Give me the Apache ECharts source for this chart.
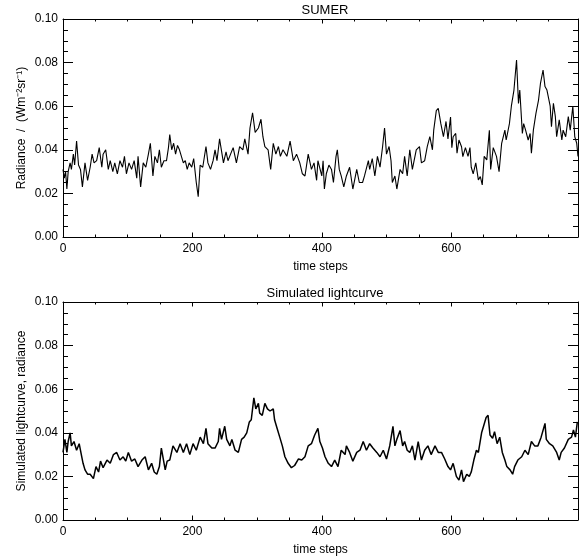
<!DOCTYPE html>
<html>
<head>
<meta charset="utf-8">
<title>SUMER / Simulated lightcurve</title>
<script src="https://cdn.jsdelivr.net/npm/echarts@6/dist/echarts.min.js"></script>
<style>
  html, body { margin: 0; padding: 0; background: #fff; }
  #chart { width: 587px; height: 558px; }
</style>
</head>
<body>
<div id="chart"></div>
<script type="text/javascript">
// values (time step, radiance)
var sumerSteps = [0,2,4,6,8,11,13,16,18,21,24,27,30,34,38,42,45,48,52,56,60,62,66,70,73,77,80,84,88,92,95,98,102,106,110,114,116,120,124,128,132,135,139,142,146,149,152,156,160,163,165,168,171,174,177,180,183,186,189,192,195,199,202,206,209,212,216,221,224,228,232,235,238,242,248,252,255,259,263,268,273,278,281,286,289,293,297,302,306,309,312,317,321,325,329,333,336,340,346,351,356,361,366,370,374,379,384,388,392,394,400,402,404,407,411,415,418,422,424,427,430,434,438,443,448,454,458,463,466,472,474,478,482,486,490,494,497,500,504,507,509,513,516,521,525,528,532,536,540,546,551,554,559,563,567,571,573,577,580,584,588,592,595,599,601,603,607,609,612,616,618,622,626,629,631,634,638,642,645,648,651,655,659,661,665,670,674,678,683,685,690,693,697,701,704,706,710,712,715,719,722,724,727,731,735,738,742,745,748,753,755,758,761,763,767,771,773,777,781,784,788,791,794,796];
var sumerRadiance = [0.031,0.027,0.030,0.022,0.030,0.034,0.031,0.038,0.033,0.044,0.033,0.031,0.023,0.034,0.026,0.032,0.038,0.034,0.035,0.041,0.032,0.038,0.040,0.031,0.035,0.030,0.034,0.029,0.035,0.032,0.037,0.029,0.034,0.031,0.035,0.027,0.037,0.023,0.034,0.032,0.038,0.043,0.028,0.037,0.034,0.040,0.032,0.035,0.035,0.041,0.047,0.040,0.043,0.038,0.042,0.040,0.037,0.034,0.035,0.031,0.034,0.032,0.036,0.025,0.0185,0.033,0.032,0.0415,0.034,0.031,0.035,0.040,0.035,0.045,0.034,0.039,0.035,0.038,0.041,0.034,0.0415,0.040,0.045,0.038,0.050,0.057,0.048,0.050,0.054,0.046,0.0415,0.040,0.031,0.043,0.038,0.0415,0.037,0.040,0.037,0.044,0.035,0.038,0.034,0.029,0.028,0.038,0.031,0.034,0.026,0.035,0.028,0.035,0.022,0.029,0.033,0.031,0.025,0.037,0.040,0.031,0.028,0.023,0.028,0.032,0.022,0.031,0.025,0.025,0.028,0.035,0.031,0.036,0.028,0.037,0.032,0.0415,0.050,0.038,0.0415,0.035,0.025,0.028,0.022,0.031,0.029,0.037,0.028,0.040,0.031,0.040,0.0415,0.034,0.035,0.0415,0.046,0.040,0.049,0.058,0.059,0.052,0.046,0.053,0.045,0.055,0.041,0.046,0.0475,0.0384,0.0445,0.0414,0.0369,0.041,0.037,0.041,0.032,0.029,0.034,0.0262,0.0277,0.0239,0.037,0.0354,0.049,0.031,0.041,0.037,0.030,0.043,0.049,0.0445,0.052,0.060,0.0674,0.0812,0.0613,0.0674,0.0475,0.052,0.049,0.0445,0.0475,0.0384,0.049,0.0567,0.0628,0.0705,0.0766,0.069,0.0674,0.060,0.0506,0.0613,0.0552,0.046,0.0537,0.0445,0.049,0.046,0.0552,0.049,0.060,0.046,0.043,0.037];

var simSteps = [0,3,6,8,11,13,17,21,25,29,31,34,38,42,47,51,55,58,62,68,73,78,83,88,93,97,101,106,111,116,122,127,132,137,141,145,149,152,158,161,165,170,176,181,186,191,196,201,206,212,217,221,224,230,235,240,242,245,250,253,258,261,266,271,276,280,284,288,291,295,298,302,304,308,312,316,320,325,327,331,335,339,343,348,353,358,364,369,374,379,384,389,394,397,401,405,410,415,420,425,430,436,438,443,448,454,459,464,469,474,479,485,490,495,500,505,510,513,516,521,525,528,532,536,540,544,549,554,559,564,569,575,580,585,590,595,599,603,608,612,616,619,624,628,631,635,639,642,647,650,654,657,660,664,667,671,675,679,683,686,691,695,698,703,709,714,719,724,729,734,739,745,747,752,757,763,767,770,775,781,786,789,792,795];
var simRadiance = [0.031,0.037,0.031,0.036,0.040,0.034,0.036,0.032,0.035,0.029,0.026,0.023,0.021,0.021,0.019,0.0245,0.022,0.027,0.024,0.0275,0.026,0.030,0.031,0.0275,0.029,0.027,0.031,0.027,0.028,0.0245,0.0275,0.029,0.023,0.026,0.022,0.021,0.0245,0.033,0.023,0.027,0.0275,0.034,0.031,0.035,0.031,0.035,0.030,0.035,0.032,0.038,0.035,0.042,0.035,0.033,0.033,0.036,0.042,0.037,0.043,0.037,0.034,0.037,0.032,0.031,0.037,0.038,0.040,0.045,0.046,0.056,0.051,0.0535,0.049,0.048,0.0535,0.051,0.050,0.051,0.046,0.042,0.038,0.034,0.029,0.026,0.024,0.025,0.028,0.0275,0.029,0.034,0.035,0.039,0.042,0.036,0.033,0.029,0.026,0.0245,0.0275,0.0245,0.032,0.030,0.034,0.031,0.027,0.031,0.032,0.036,0.032,0.035,0.033,0.031,0.029,0.032,0.028,0.034,0.043,0.034,0.037,0.041,0.034,0.036,0.032,0.031,0.034,0.0275,0.036,0.0275,0.032,0.034,0.030,0.034,0.031,0.031,0.028,0.0245,0.023,0.026,0.020,0.0183,0.023,0.0176,0.021,0.020,0.022,0.0275,0.032,0.031,0.040,0.043,0.047,0.048,0.039,0.0375,0.0405,0.035,0.038,0.031,0.0275,0.0245,0.023,0.021,0.0245,0.0275,0.029,0.032,0.030,0.036,0.034,0.034,0.038,0.0443,0.037,0.035,0.034,0.031,0.0275,0.031,0.033,0.037,0.038,0.0413,0.038,0.045];

var yTicks = [0, 0.02, 0.04, 0.06, 0.08, 0.10];
var xTickStep = 200;
var lastStep = 796;

var chart = echarts.init(document.getElementById('chart'), null, {renderer: 'canvas'});
var font = 'Liberation Sans, Arial, sans-serif';

function pairs(xs, ys) {
    return xs.map(function (x, i) { return [x, ys[i]]; });
}

function xAxisFor(grid, showLabels) {
    return {
        type: 'value', gridIndex: grid, min: 0, max: lastStep, interval: xTickStep,
        position: showLabels ? 'bottom' : 'top',
        name: showLabels ? 'time steps' : '', nameLocation: 'middle', nameGap: 24,
        nameTextStyle: {color: '#000', fontFamily: font, fontSize: 12},
        axisLine: {show: true, onZero: false, lineStyle: {color: '#000', width: 1}},
        axisTick: {show: true, inside: true, length: 4.5, lineStyle: {color: '#000'}},
        minorTick: {show: true, splitNumber: 4, length: 2.5, lineStyle: {color: '#000'}},
        axisLabel: {show: showLabels, color: '#000', fontFamily: font, fontSize: 12, margin: 6,
            showMaxLabel: false,
            formatter: function (v) { return v % xTickStep === 0 ? String(v) : ''; }},
        splitLine: {show: false}
    };
}

function yAxisFor(grid, showLabels, name) {
    return {
        type: 'value', gridIndex: grid, min: yTicks[0], max: yTicks[yTicks.length - 1], interval: 0.02,
        position: showLabels ? 'left' : 'right',
        name: name || '', nameLocation: 'middle', nameGap: 35, nameRotate: 90,
        nameMoveOverlap: false,
        nameTextStyle: {color: '#000', fontFamily: font, fontSize: 12},
        axisLine: {show: true, onZero: false, lineStyle: {color: '#000', width: 1}},
        axisTick: {show: true, inside: true, length: 10, lineStyle: {color: '#000'}},
        minorTick: {show: true, splitNumber: 4, length: 5, lineStyle: {color: '#000'}},
        axisLabel: {show: showLabels, color: '#000', fontFamily: font, fontSize: 12, margin: 5,
            formatter: function (v) { return v.toFixed(2); }},
        splitLine: {show: false}
    };
}

var option = {
    backgroundColor: '#fff',
    animation: false,
    title: [
        {text: 'SUMER', left: 320, top: -1, textAlign: 'center',
            textStyle: {color: '#000', fontFamily: font, fontSize: 13, fontWeight: 'normal'}},
        {text: 'Simulated lightcurve', left: 320, top: 282, textAlign: 'center',
            textStyle: {color: '#000', fontFamily: font, fontSize: 13, fontWeight: 'normal'}}
    ],
    grid: [
        {left: 63, top: 19, width: 515, height: 218},
        {left: 63, top: 302, width: 515, height: 218}
    ],
    xAxis: [
        xAxisFor(0, true), xAxisFor(0, false),
        xAxisFor(1, true), xAxisFor(1, false)
    ],
    yAxis: [
        yAxisFor(0, true, 'Radiance  /  (Wm\u207B\u00B2sr\u207B\u00B9)'), yAxisFor(0, false),
        yAxisFor(1, true, 'Simulated lightcurve, radiance'), yAxisFor(1, false)
    ],
    series: [
        {
            name: 'SUMER', type: 'line', xAxisIndex: 0, yAxisIndex: 0,
            data: pairs(sumerSteps, sumerRadiance),
            showSymbol: false, lineStyle: {color: '#000', width: 1.1}
        },
        {
            name: 'Simulated lightcurve', type: 'line', xAxisIndex: 2, yAxisIndex: 2,
            data: pairs(simSteps, simRadiance),
            showSymbol: false, lineStyle: {color: '#000', width: 1.5}
        }
    ]
};
chart.setOption(option);
</script>
</body>
</html>
